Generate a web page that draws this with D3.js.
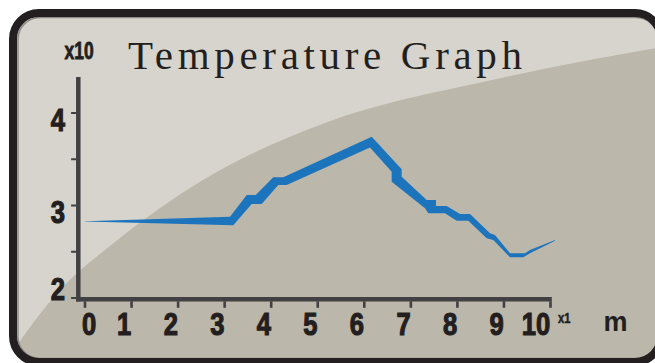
<!DOCTYPE html>
<html>
<head>
<meta charset="utf-8">
<script src="https://cdn.jsdelivr.net/npm/d3@7"></script>
<style>
  html, body { margin: 0; padding: 0; background: #ffffff; }
  svg { display: block; }
</style>
</head>
<body>
<svg id="chart" width="655" height="363"></svg>
<script>
// ---------- data ----------
const title = "Temperature Graph";
const xTickValues = [0, 1, 2, 3, 4, 5, 6, 7, 8, 9, 10];
const yTickValues = [2, 3, 4];
const yMinorTicks = [2.5, 3.5];
const yUnitLabel = "x10";
const xUnitLabel = "x1";
const xAxisName = "m";

// upper edge of the temperature band (distance m, temperature x10)
const upperDist = [0, 3.126, 3.484, 3.678, 4.056, 4.271, 6.170, 6.814, 6.814, 7.351, 7.551, 7.551, 7.781, 8.067, 8.281, 8.711, 8.818, 9.141, 9.463, 9.570, 10.107];
const upperTemp = [2.824, 2.874, 3.108, 3.108, 3.299, 3.299, 3.738, 3.386, 3.306, 3.054, 3.054, 2.989, 2.989, 2.903, 2.903, 2.694, 2.676, 2.478, 2.478, 2.514, 2.622];
// lower edge of the temperature band
const lowerDist = [0, 3.197, 3.592, 3.807, 4.163, 4.344, 6.133, 6.599, 6.599, 7.315, 7.386, 7.744, 7.996, 8.245, 8.640, 8.782, 9.141, 9.426, 9.570, 10.107];
const lowerTemp = [2.821, 2.781, 3.011, 3.011, 3.216, 3.216, 3.622, 3.360, 3.252, 2.964, 2.910, 2.910, 2.830, 2.830, 2.640, 2.622, 2.435, 2.435, 2.478, 2.614];

// ---------- layout ----------
const svg = d3.select("#chart");
const ink = "#231f20";
const axisCol = "#414042";
const blue = "#1c75bc";
const condensed = "'Liberation Sans Narrow', 'Arial Narrow', sans-serif";

const x = d3.scaleLinear().domain([0, 10]).range([84.5, 550]);
const y = d3.scaleLinear().domain([2, 4]).range([297.5, 112.5]);

// frame
const defs = svg.append("defs");
defs.append("clipPath").attr("id", "inner")
  .append("rect").attr("x", 17).attr("y", 17).attr("width", 640).attr("height", 341).attr("rx", 22).attr("ry", 22);

const bg = svg.append("g").attr("clip-path", "url(#inner)");
bg.append("rect").attr("x", 0).attr("y", 0).attr("width", 680).attr("height", 380).attr("fill", "#d7d4cd");

// decorative swoosh
const swoosh = [[10, 355], [60, 290], [115, 242], [203, 180], [325, 123], [492, 80], [680, 44]];
const swooshPath = d3.line().curve(d3.curveMonotoneX)(swoosh) + "L680,380L0,380Z";
bg.append("path").attr("d", swooshPath).attr("fill", "#bbb7ab");

// frame border
svg.append("rect").attr("x", 18).attr("y", 17.5).attr("width", 640).attr("height", 341).attr("rx", 22)
  .attr("fill", "none").attr("stroke", "#8e8c87").attr("stroke-width", 1.5);
svg.append("rect").attr("x", 13).attr("y", 13).attr("width", 648).attr("height", 349).attr("rx", 26)
  .attr("fill", "none").attr("stroke", ink).attr("stroke-width", 8);

// title
svg.append("text")
  .attr("x", 128).attr("y", 69)
  .attr("font-family", "'Liberation Serif', 'DejaVu Serif', serif")
  .attr("font-size", 41)
  .attr("fill", ink)
  .attr("textLength", 394).attr("lengthAdjust", "spacing")
  .text(title);

// ---------- temperature band ----------
const upperPts = upperDist.map((d, i) => [x(d), y(upperTemp[i])]);
const lowerPts = lowerDist.map((d, i) => [x(d), y(lowerTemp[i])]).reverse();
svg.append("path")
  .attr("d", d3.line()(upperPts.concat(lowerPts)) + "Z")
  .attr("fill", blue);

// ---------- axes ----------
const yAxisX = 78.3, xAxisY = 299.3;
const yAxisG = svg.append("g").attr("transform", `translate(${yAxisX - 2.2},0)`)
  .call(d3.axisLeft(y).tickValues(yTickValues.concat(yMinorTicks)).tickSize(5).tickFormat(""));
yAxisG.select(".domain").remove();
yAxisG.selectAll(".tick line").attr("stroke", axisCol).attr("stroke-width", 2);

const xAxisG = svg.append("g").attr("transform", `translate(0,${xAxisY + 2})`)
  .call(d3.axisBottom(x).tickValues(xTickValues).tickSize(6.5).tickFormat(""));
xAxisG.select(".domain").remove();
xAxisG.selectAll(".tick line").attr("stroke", axisCol).attr("stroke-width", 2.6);

// axis lines
svg.append("line").attr("x1", yAxisX).attr("x2", yAxisX).attr("y1", 77).attr("y2", xAxisY + 2.2)
  .attr("stroke", axisCol).attr("stroke-width", 4.5);
svg.append("line").attr("x1", yAxisX - 2.2).attr("x2", x(10) + 1.8).attr("y1", xAxisY).attr("y2", xAxisY)
  .attr("stroke", axisCol).attr("stroke-width", 4.4);

// y tick labels
svg.selectAll(".ylab").data(yTickValues).enter().append("text")
  .attr("class", "ylab")
  .attr("transform", d => `translate(57.8,${Math.min(y(d) + 18, xAxisY + 0.7)}) scale(0.8,1)`)
  .attr("text-anchor", "middle")
  .attr("font-family", condensed).attr("font-weight", "bold").attr("font-size", 32)
  .attr("fill", ink).attr("stroke", ink).attr("stroke-width", 1.2)
  .text(d => d);

// x tick labels (right-aligned on tick)
svg.selectAll(".xlab").data(xTickValues).enter().append("text")
  .attr("class", "xlab")
  .attr("transform", d => `translate(${Math.max(x(d) + 0.3, x(0) + 11.7)},335) scale(0.8,1)`)
  .attr("text-anchor", "end")
  .attr("font-family", condensed).attr("font-weight", "bold").attr("font-size", 32)
  .attr("fill", ink).attr("stroke", ink).attr("stroke-width", 1.2)
  .text(d => d);

// unit labels
svg.append("text")
  .attr("transform", "translate(64.5,59) scale(0.76,1)")
  .attr("font-family", condensed).attr("font-weight", "bold").attr("font-size", 23)
  .attr("fill", ink).attr("stroke", ink).attr("stroke-width", 0.8).text(yUnitLabel);
svg.append("text")
  .attr("transform", `translate(${x(10) + 8},323) scale(0.8,1)`)
  .attr("font-family", condensed).attr("font-weight", "bold").attr("font-size", 14)
  .attr("fill", ink).attr("stroke", ink).attr("stroke-width", 0.5).text(xUnitLabel);
svg.append("text")
  .attr("x", 603.5).attr("y", 331)
  .attr("font-family", "'Liberation Sans', Arial, sans-serif").attr("font-weight", "bold").attr("font-size", 27)
  .attr("fill", ink).text(xAxisName);
</script>
</body>
</html>
